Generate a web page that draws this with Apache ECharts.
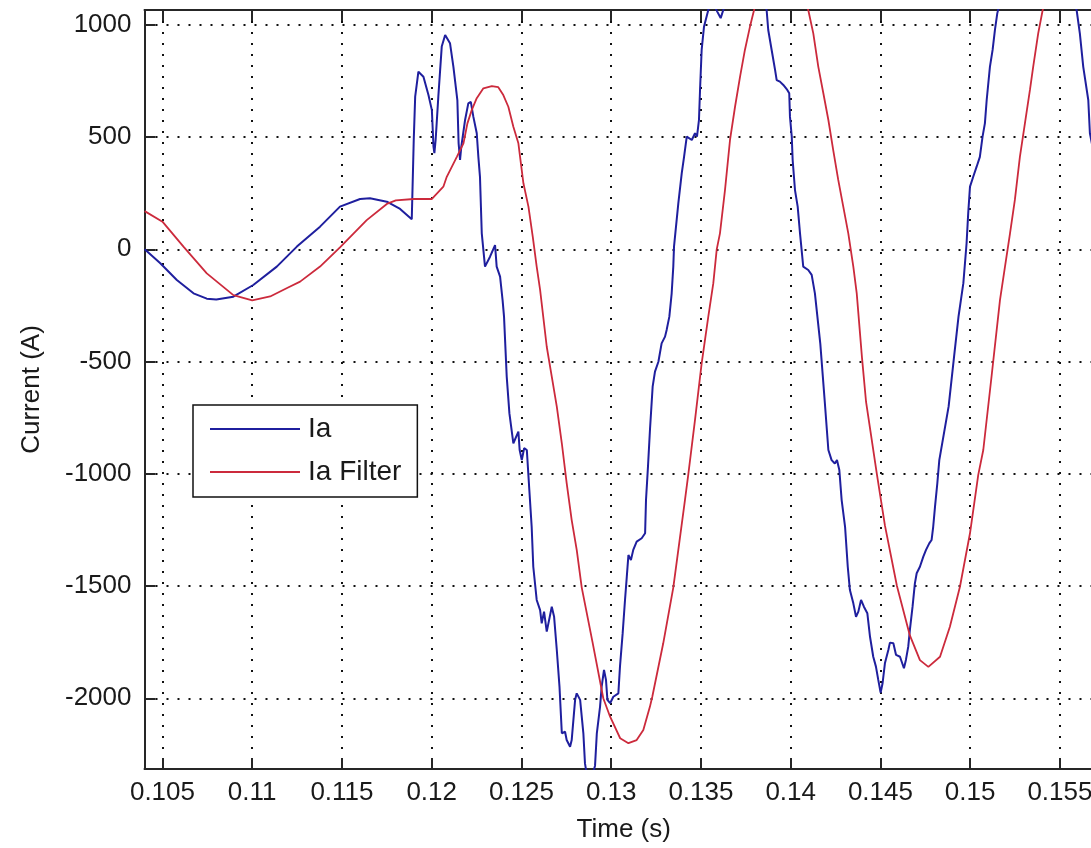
<!DOCTYPE html>
<html>
<head>
<meta charset="utf-8">
<script src="https://cdn.jsdelivr.net/npm/echarts@6/dist/echarts.min.js"></script>
<style>
html,body{margin:0;padding:0;background:#fff;}
#chart{width:1091px;height:848px;}
</style>
</head>
<body>
<div id="chart"></div>
<script>
// ---- Data ----
const seriesNames = ['Ia', 'Ia Filter'];

const iaTime = [
0.10401,0.10488,0.1058,0.10673,0.10747,0.1080,0.10895,0.11006,0.11137,0.11249,
0.11378,0.11489,0.11601,0.11656,0.1175,0.11824,0.11889,0.11897,0.11900,0.11908,
0.11926,0.11954,0.11982,0.12001,0.12010,0.12015,0.12022,0.12037,0.12056,0.12075,
0.12102,0.12121,0.12143,0.12150,0.12158,0.12165,0.12186,0.12204,0.12218,0.12232,
0.12251,0.12260,0.12269,0.12279,0.12297,0.12325,0.12353,0.12362,0.12381,0.12395,
0.12403,0.12418,0.12433,0.12455,0.12483,0.12490,0.12502,0.12515,0.12530,0.12544,
0.12557,0.12566,0.12585,0.12604,0.12613,0.12626,0.12641,0.12669,0.12682,0.12697,
0.12712,0.12725,0.12743,0.12752,0.12771,0.12780,0.12799,0.12808,0.12827,0.12836,
0.12845,0.12854,0.12864,0.12890,0.12910,0.12920,0.12938,0.12947,0.12960,0.12971,
0.12979,0.12994,0.13012,0.13040,0.13049,0.13064,0.13077,0.13087,0.13096,0.13110,
0.13123,0.13142,0.13170,0.13189,0.13194,0.13205,0.13216,0.13231,0.13244,0.13263,
0.13281,0.13300,0.13309,0.13324,0.13337,0.13346,0.13350,0.13374,0.13393,0.13406,
0.13421,0.13449,0.13467,0.13478,0.13489,0.13495,0.13504,0.13517,0.13541,0.13560,
0.13590,0.13610,0.13630,0.13670,0.13720,0.13770,0.13820,0.13850,0.13866,0.13875,
0.13894,0.13913,0.13922,0.13940,0.13959,0.13981,0.13992,0.13996,0.14006,0.14011,
0.14024,0.14039,0.14052,0.14070,0.14098,0.14117,0.14135,0.14165,0.14190,0.14210,
0.14228,0.14246,0.14258,0.14271,0.14284,0.14303,0.14318,0.14330,0.14349,0.14364,
0.14377,0.14392,0.14408,0.14427,0.14442,0.14460,0.14475,0.14488,0.14501,0.14512,
0.14525,0.14544,0.14553,0.14572,0.14587,0.14609,0.14631,0.14642,0.14655,0.14664,
0.14679,0.14692,0.14702,0.14720,0.14739,0.14754,0.14772,0.14785,0.14794,0.14804,
0.14817,0.14828,0.14880,0.14910,0.14935,0.14962,0.14980,0.14989,0.14999,0.15017,
0.15036,0.15054,0.15069,0.15082,0.15092,0.15110,0.15125,0.15138,0.15151,0.15160,
0.15250,0.15350,0.15450,0.15530,0.15593,0.15611,0.15630,0.15658,0.15667,0.15700,
0.15740
];
const iaValues = [
0,-62,-137,-196,-220,-224,-211,-159,-77,12,
101,190,224,227,212,180,134,134,487,680,
791,769,687,620,457,428,487,680,903,955,
918,813,665,472,398,457,576,650,657,591,
517,412,323,71,-77,-33,19,-77,-122,-226,
-300,-567,-731,-864,-812,-894,-939,-886,-894,-1072,
-1236,-1414,-1562,-1607,-1666,-1614,-1703,-1592,-1637,-1785,
-1948,-2156,-2149,-2186,-2216,-2186,-2007,-1978,-2007,-2082,
-2156,-2290,-2340,-2360,-2300,-2156,-2037,-1948,-1874,-1918,
-2007,-2022,-1993,-1978,-1859,-1710,-1562,-1458,-1362,-1384,
-1339,-1302,-1287,-1265,-1117,-968,-805,-612,-545,-501,
-419,-389,-359,-300,-196,-77,12,205,338,412,
502,487,517,502,576,710,888,991,1066,1110,
1060,1030,1080,1180,1260,1280,1220,1110,1066,977,
888,799,754,747,732,710,695,591,502,398,
264,190,71,-77,-92,-114,-196,-420,-680,-894,
-939,-954,-939,-983,-1117,-1236,-1414,-1518,-1577,-1637,
-1614,-1562,-1592,-1621,-1726,-1815,-1859,-1918,-1975,-1933,
-1844,-1785,-1752,-1755,-1807,-1815,-1866,-1829,-1770,-1696,
-1592,-1488,-1443,-1414,-1369,-1339,-1310,-1295,-1236,-1147,
-1042,-939,-700,-480,-300,-151,27,160,279,323,
368,412,502,561,665,813,888,977,1051,1080,
1250,1350,1330,1200,1066,962,813,665,517,380,
200
];

const filterTime = [
0.10401,0.10500,0.10617,0.10747,0.10895,0.11000,0.11100,0.11200,0.11267,0.11378,
0.11489,0.11638,0.11750,0.11800,0.11900,0.12000,0.12065,0.12084,0.12140,0.12177,
0.12199,0.12223,0.12251,0.12288,0.12335,0.12371,0.12399,0.12427,0.12455,0.12483,
0.12511,0.12539,0.12563,0.12585,0.12604,0.12641,0.12669,0.12697,0.12725,0.12752,
0.12780,0.12808,0.12836,0.12896,0.12956,0.12994,0.13050,0.13096,0.13142,0.13179,
0.13216,0.13229,0.13290,0.13346,0.13411,0.13430,0.13467,0.13504,0.13541,0.13569,
0.13588,0.13606,0.13634,0.13662,0.13690,0.13718,0.13745,0.13773,0.13796,0.13850,
0.13900,0.13950,0.14000,0.14050,0.14098,0.14126,0.14154,0.14182,0.14210,0.14237,
0.14265,0.14293,0.14321,0.14349,0.14368,0.14397,0.14420,0.14480,0.14525,0.14592,
0.14664,0.14720,0.14767,0.14832,0.14887,0.14943,0.14999,0.15045,0.15073,0.15120,
0.15166,0.15194,0.15222,0.15249,0.15277,0.15305,0.15333,0.15351,0.15379,0.15404,
0.15480,0.15560,0.15740
];
const filterValues = [
170,123,12,-107,-204,-228,-210,-170,-144,-77,
9,130,202,218,224,224,279,323,412,472,
561,620,673,717,727,722,687,635,546,472,
294,190,56,-77,-181,-434,-567,-701,-864,-1042,
-1206,-1339,-1507,-1750,-2000,-2082,-2178,-2200,-2186,-2141,
-2037,-1993,-1755,-1507,-1117,-1000,-760,-508,-300,-151,
0,71,264,487,635,769,888,991,1066,1230,
1320,1340,1300,1180,1066,962,813,695,576,442,
309,190,71,-77,-196,-480,-680,-1000,-1230,-1500,
-1720,-1830,-1860,-1815,-1681,-1503,-1265,-1005,-894,-560,
-226,-77,71,220,412,561,710,813,962,1066,
1250,1370,1300
];

const xRange = [0.104, 0.1574];
const yRange = [-2315, 1066];
const xStep = 0.005;
const yStep = 500;

// ---- Chart ----
const zip = (xs, ys) => xs.map((x, i) => [x, ys[i]]);
const FONT = 'Liberation Sans, Arial, sans-serif';
const TXT = '#1a1a1a';
const AX = '#262626';
const gridDots = { color: '#111', width: 2, type: [2, 9] };

const chart = echarts.init(document.getElementById('chart'), null, { renderer: 'canvas' });
chart.setOption({
  animation: false,
  backgroundColor: '#ffffff',
  grid: { left: 144.5, top: 10, width: 958.5, height: 759, containLabel: false, outerBoundsMode: 'none' },
  legend: {
    orient: 'vertical',
    left: 193, top: 405,
    data: seriesNames,
    icon: 'rect',
    itemWidth: 90, itemHeight: 2,
    itemGap: 15,
    padding: [10, 16, 11, 17],
    backgroundColor: '#fff',
    borderColor: '#111', borderWidth: 1.5,
    textStyle: { fontFamily: FONT, fontSize: 28, color: TXT, padding: [0, 0, 0, 3] }
  },
  xAxis: [{
    type: 'value', position: 'bottom',
    min: xRange[0], max: xRange[1],
    splitNumber: 10, minInterval: xStep, maxInterval: xStep,
    name: 'Time (s)', nameLocation: 'middle', nameGap: 48,
    nameTextStyle: { fontFamily: FONT, fontSize: 26, color: TXT },
    axisLine: { show: true, onZero: false, lineStyle: { color: AX, width: 2 } },
    axisTick: { show: true, inside: true, length: 11, lineStyle: { color: AX, width: 2 } },
    axisLabel: { show: true, margin: 11, showMinLabel: false, showMaxLabel: false,
      fontFamily: FONT, fontSize: 26, color: TXT, formatter: v => String(+v.toFixed(4)) },
    splitLine: { show: true, lineStyle: gridDots }
  }, {
    type: 'value', position: 'top',
    min: xRange[0], max: xRange[1],
    splitNumber: 10, minInterval: xStep, maxInterval: xStep,
    axisLine: { show: true, onZero: false, lineStyle: { color: AX, width: 2 } },
    axisTick: { show: true, inside: true, length: 11, lineStyle: { color: AX, width: 2 } },
    axisLabel: { show: false },
    splitLine: { show: false }
  }],
  yAxis: [{
    type: 'value', position: 'left',
    min: yRange[0], max: yRange[1],
    splitNumber: 7, minInterval: yStep, maxInterval: yStep,
    name: 'Current (A)', nameLocation: 'middle', nameGap: 100,
    nameTextStyle: { fontFamily: FONT, fontSize: 26, color: TXT },
    axisLine: { show: true, onZero: false, lineStyle: { color: AX, width: 2 } },
    axisTick: { show: true, inside: true, length: 11, lineStyle: { color: AX, width: 2 } },
    axisLabel: { show: true, margin: 13, showMinLabel: false, showMaxLabel: false,
      fontFamily: FONT, fontSize: 26, color: TXT, formatter: v => String(Math.round(v)) },
    splitLine: { show: true, lineStyle: gridDots }
  }],
  series: [{
    name: seriesNames[0], type: 'line', xAxisIndex: 0, yAxisIndex: 0,
    data: zip(iaTime, iaValues),
    showSymbol: false, symbol: 'none', clip: true,
    lineStyle: { color: '#1f1f9e', width: 2 },
    itemStyle: { color: '#1f1f9e' },
    z: 3
  }, {
    name: seriesNames[1], type: 'line', xAxisIndex: 0, yAxisIndex: 0,
    data: zip(filterTime, filterValues),
    showSymbol: false, symbol: 'none', clip: true,
    lineStyle: { color: '#cc2a3c', width: 1.8 },
    itemStyle: { color: '#cc2a3c' },
    z: 4
  }]
});
</script>
</body>
</html>
